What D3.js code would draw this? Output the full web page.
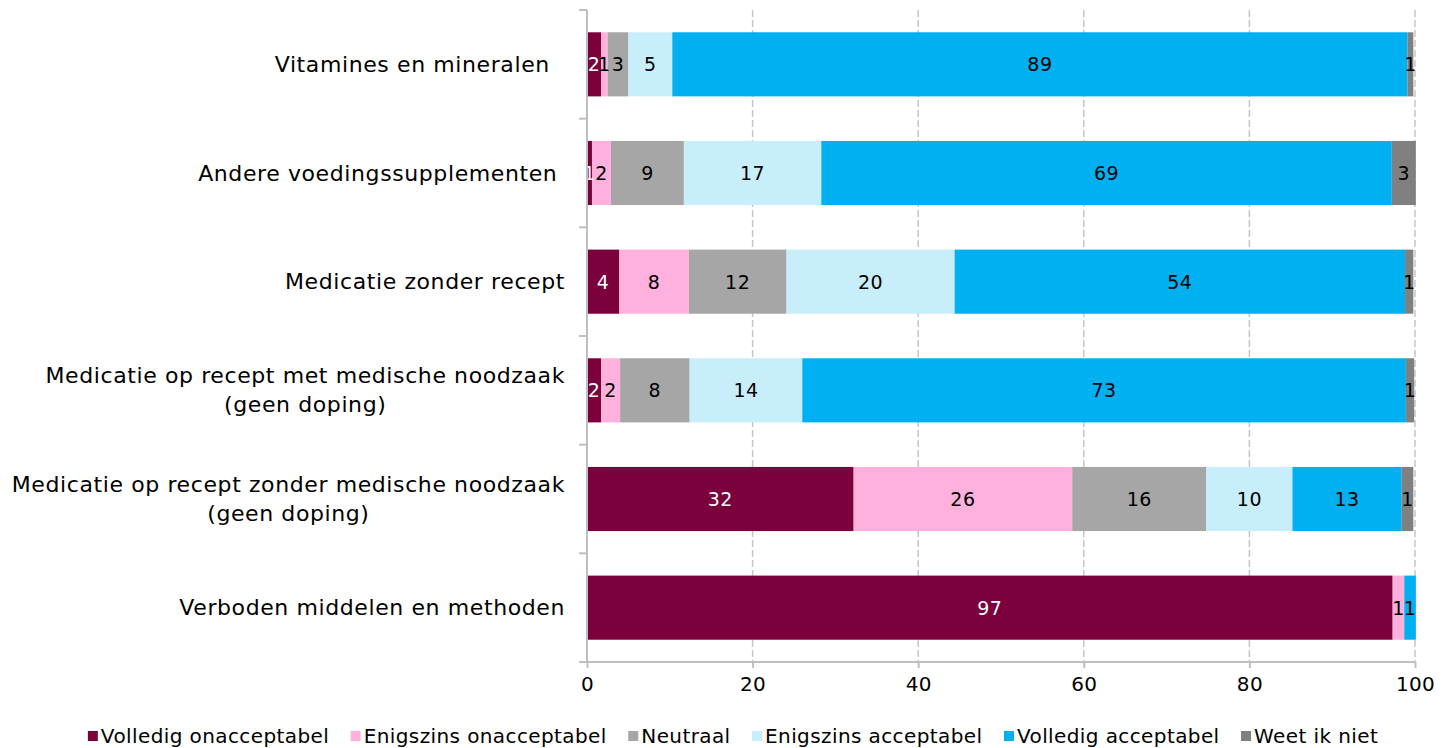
<!DOCTYPE html>
<html><head><meta charset="utf-8">
<script src="https://cdn.jsdelivr.net/npm/d3@7"></script>
<style>body{margin:0;background:#fff} svg{display:block}</style>
</head><body><svg id="c" width="1453" height="748"></svg>
<script>
// ---- data ----
const categories = [
  ["Vitamines en mineralen\u00a0\u00a0"],
  ["Andere voedingssupplementen\u00a0"],
  ["Medicatie zonder recept"],
  ["Medicatie op recept met medische noodzaak", "(geen doping)"],
  ["Medicatie op recept zonder medische noodzaak", "(geen doping)"],
  ["Verboden middelen en methoden"]
];
const seriesNames = ["Volledig onacceptabel", "Enigszins onacceptabel", "Neutraal", "Enigszins acceptabel", "Volledig acceptabel", "Weet ik niet"];
const volledigOnacceptabel = [1.7, 0.6, 3.9, 1.7, 32.2, 97.3];
const enigszinsOnacceptabel = [0.8, 2.3, 8.4, 2.3, 26.4, 1.4];
const neutraal = [2.5, 8.8, 11.8, 8.4, 16.2, 0];
const enigszinsAcceptabel = [5.3, 16.6, 20.3, 13.6, 10.4, 0];
const volledigAcceptabel = [88.8, 68.9, 54.4, 72.9, 13.2, 1.4];
const weetIkNiet = [0.7, 2.9, 1.0, 1.0, 1.4, 0];
const xTicks = [0, 20, 40, 60, 80, 100];

const seriesValues = [volledigOnacceptabel, enigszinsOnacceptabel, neutraal, enigszinsAcceptabel, volledigAcceptabel, weetIkNiet];
const colors = ["#7b003c", "#ffb0dc", "#a6a6a6", "#c9eefb", "#00b0f0", "#808080"];
const labelColors = ["#ffffff", "#000", "#000", "#000", "#000", "#000"];

// ---- layout ----
const FONT = "DejaVu Sans";
const svg = d3.select("#c");
const margin = {left: 587, right: 38, top: 10, bottom: 86};
const W = 1453, H = 748;
const x = d3.scaleLinear().domain([0, 100]).range([margin.left, W - margin.right]);
const y = d3.scaleBand().domain(d3.range(categories.length)).range([margin.top, H - margin.bottom]).paddingInner(0.41).paddingOuter(0.205);

// gridlines
svg.append("g").selectAll("line").data(xTicks.filter(d => d > 0)).join("line")
  .attr("x1", d => x(d)).attr("x2", d => x(d))
  .attr("y1", margin.top).attr("y2", H - margin.bottom)
  .attr("stroke", "#c6c6c6").attr("stroke-width", 1.5).attr("stroke-dasharray", "7,3");

// stacked data
const rows = categories.map((c, i) => {
  let acc = 0;
  return seriesValues.map((s, k) => { const v = s[i]; const seg = {i, k, x0: acc, x1: acc + v, v}; acc += v; return seg; });
});
const segs = rows.flat();

svg.append("g").selectAll("rect").data(segs.filter(d => d.v > 0)).join("rect")
  .attr("x", d => x(d.x0)).attr("width", d => x(d.x1) - x(d.x0))
  .attr("y", d => y(d.i)).attr("height", y.bandwidth())
  .attr("fill", d => colors[d.k]);

svg.append("g").selectAll("text").data(segs.filter(d => d.v > 0)).join("text")
  .attr("x", d => (x(d.x0) + x(d.x1)) / 2).attr("y", d => y(d.i) + y.bandwidth() / 2)
  .attr("text-anchor", "middle").attr("dominant-baseline", "central")
  .attr("font-family", FONT).attr("font-size", 19).attr("letter-spacing", 0.5)
  .attr("fill", d => labelColors[d.k])
  .text(d => Math.round(d.v));

// axes
const xAxis = d3.axisBottom(x).tickValues(xTicks).tickSize(6).tickPadding(9);
const gx = svg.append("g").attr("transform", `translate(0,${H - margin.bottom})`).call(xAxis);
gx.select(".domain").attr("stroke", "#bfbfbf").attr("stroke-width", 2).attr("d", `M${x(0) - 8},0H${x(100)}`);
gx.selectAll(".tick line").attr("stroke", "#bfbfbf").attr("stroke-width", 2);
gx.selectAll(".tick text").attr("font-family", FONT).attr("font-size", 20).attr("letter-spacing", 0.3).attr("fill", "#000");

// y axis line and boundary ticks
const gy = svg.append("g");
gy.append("line").attr("x1", x(0)).attr("x2", x(0)).attr("y1", margin.top).attr("y2", H - margin.bottom)
  .attr("stroke", "#bfbfbf").attr("stroke-width", 2);
const step = y.step();
gy.selectAll("line.t").data(d3.range(categories.length + 1)).join("line").attr("class", "t")
  .attr("x1", x(0) - 8).attr("x2", x(0))
  .attr("y1", d => margin.top + d * step).attr("y2", d => margin.top + d * step)
  .attr("stroke", "#bfbfbf").attr("stroke-width", 2);

// category labels
const labelRight = 565;
categories.forEach((lines, i) => {
  const g = gy.append("g");
  const n = lines.length;
  const lh = 29;
  const cy = y(i) + y.bandwidth() / 2;
  const texts = lines.map((t, j) => g.append("text")
    .attr("y", cy + (j - (n - 1) / 2) * lh)
    .attr("dominant-baseline", "central")
    .attr("font-family", FONT).attr("font-size", 22).attr("letter-spacing", 0.6).attr("fill", "#000")
    .style("white-space", "pre")
    .text(t));
  const widths = texts.map(t => t.node().getComputedTextLength());
  const maxW = d3.max(widths);
  texts.forEach((t, j) => t.attr("text-anchor", "middle").attr("x", labelRight - maxW / 2));
});

// legend
const legend = svg.append("g");
const items = seriesNames.map((name, k) => {
  const g = legend.append("g");
  g.append("rect").attr("width", 10).attr("height", 10).attr("y", -5).attr("fill", colors[k]);
  const t = g.append("text").attr("x", 13).attr("dominant-baseline", "central")
    .attr("font-family", FONT).attr("font-size", 20).attr("letter-spacing", 0.4).attr("fill", "#000").text(name);
  return {g, w: 13 + t.node().getComputedTextLength()};
});
const gap = 21.5;
const total = d3.sum(items, d => d.w) + gap * (items.length - 1);
let lx = 733 - total / 2;
items.forEach(it => { it.g.attr("transform", `translate(${lx},736)`); lx += it.w + gap; });
</script>
</body></html>
